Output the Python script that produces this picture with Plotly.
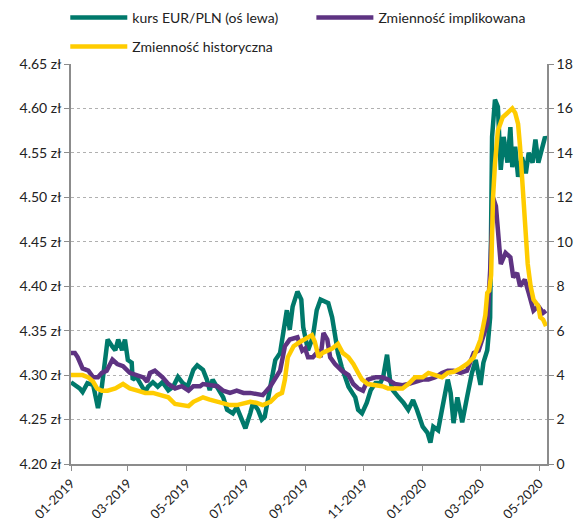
import plotly.graph_objects as go
import pandas as pd

# --- data ---
eur_dates = ["2019-01-01","2019-01-05","2019-01-10","2019-01-13","2019-01-18","2019-01-24","2019-01-29",
    "2019-02-02","2019-02-05","2019-02-08","2019-02-13","2019-02-16","2019-02-19","2019-02-23","2019-02-26",
    "2019-03-01","2019-03-05","2019-03-06","2019-03-10","2019-03-14","2019-03-19","2019-03-22","2019-03-27",
    "2019-04-01","2019-04-06","2019-04-12","2019-04-17","2019-04-22","2019-04-27","2019-05-02","2019-05-08",
    "2019-05-12","2019-05-18","2019-05-22","2019-05-25","2019-05-28","2019-06-05","2019-06-08","2019-06-12",
    "2019-06-18","2019-06-22","2019-06-28","2019-07-01","2019-07-06","2019-07-09","2019-07-14","2019-07-18",
    "2019-07-21","2019-07-25","2019-07-29","2019-08-01","2019-08-06","2019-08-09","2019-08-13","2019-08-16",
    "2019-08-19","2019-08-24","2019-08-28","2019-08-30","2019-09-02","2019-09-04","2019-09-09","2019-09-13",
    "2019-09-17","2019-09-22","2019-09-25","2019-09-29","2019-10-02","2019-10-05","2019-10-09","2019-10-13",
    "2019-10-16","2019-10-20","2019-10-23","2019-10-26","2019-10-30","2019-11-04","2019-11-08","2019-11-13",
    "2019-11-18","2019-11-21","2019-11-25","2019-11-28","2019-12-01","2019-12-07","2019-12-12","2019-12-17",
    "2019-12-22","2019-12-26","2020-01-01","2020-01-06","2020-01-09","2020-01-12","2020-01-17","2020-01-21",
    "2020-01-24","2020-01-27","2020-01-30","2020-02-02","2020-02-06","2020-02-09","2020-02-11","2020-02-16",
    "2020-02-21","2020-02-25","2020-03-01","2020-03-04","2020-03-08","2020-03-11","2020-03-12","2020-03-13",
    "2020-03-16","2020-03-19","2020-03-22","2020-03-25","2020-03-29","2020-04-01","2020-04-03","2020-04-06",
    "2020-04-09","2020-04-13","2020-04-17","2020-04-20","2020-04-24","2020-04-27","2020-04-30","2020-05-04",
    "2020-05-07","2020-05-08"]
eur_pln = [4.292,4.289,4.285,4.281,4.291,4.289,4.263,
    4.287,4.317,4.340,4.332,4.328,4.340,4.328,4.340,
    4.317,4.314,4.295,4.298,4.291,4.281,4.287,4.292,
    4.287,4.292,4.283,4.287,4.298,4.291,4.287,4.306,
    4.311,4.306,4.295,4.283,4.295,4.280,4.275,4.261,
    4.257,4.264,4.246,4.240,4.257,4.269,4.261,4.250,
    4.253,4.275,4.295,4.317,4.325,4.347,4.373,4.351,
    4.377,4.394,4.385,4.354,4.340,4.328,4.343,4.373,
    4.385,4.382,4.381,4.365,4.347,4.325,4.309,4.295,
    4.287,4.280,4.275,4.261,4.257,4.269,4.283,4.291,
    4.291,4.298,4.323,4.295,4.283,4.275,4.269,4.261,
    4.272,4.261,4.242,4.235,4.224,4.242,4.238,4.261,
    4.280,4.295,4.280,4.246,4.275,4.261,4.247,4.275,
    4.302,4.317,4.289,4.314,4.328,4.365,4.444,4.568,
    4.610,4.602,4.531,4.568,4.539,4.579,4.534,4.557,
    4.523,4.545,4.527,4.550,4.539,4.565,4.539,4.557,
    4.568,4.566]

impl_dates = ["2019-01-01","2019-01-05","2019-01-08","2019-01-13","2019-01-19","2019-01-24","2019-01-29",
    "2019-02-02","2019-02-07","2019-02-13","2019-02-18","2019-02-24","2019-03-03","2019-03-11","2019-03-17",
    "2019-03-21","2019-03-24","2019-03-29","2019-04-06","2019-04-12","2019-04-19","2019-04-26","2019-05-03",
    "2019-05-08","2019-05-15","2019-05-18","2019-05-25","2019-06-02","2019-06-08","2019-06-15","2019-06-22",
    "2019-06-29","2019-07-06","2019-07-13","2019-07-19","2019-07-27","2019-08-01","2019-08-06","2019-08-11",
    "2019-08-16","2019-08-24","2019-08-29","2019-09-01","2019-09-04","2019-09-09","2019-09-15","2019-09-17",
    "2019-09-20","2019-09-24","2019-09-27","2019-10-02","2019-10-09","2019-10-16","2019-10-21","2019-10-26",
    "2019-10-31","2019-11-05","2019-11-13","2019-11-20","2019-11-26","2019-12-03","2019-12-11","2019-12-17",
    "2019-12-24","2020-01-01","2020-01-07","2020-01-14","2020-01-21","2020-01-27","2020-02-02","2020-02-09",
    "2020-02-16","2020-02-23","2020-02-28","2020-03-03","2020-03-08","2020-03-11","2020-03-14","2020-03-17",
    "2020-03-19","2020-03-22","2020-03-27","2020-04-01","2020-04-04","2020-04-08","2020-04-11","2020-04-16",
    "2020-04-20","2020-04-25","2020-04-30","2020-05-05","2020-05-08"]
impl_vol = [5.0,5.0,4.8,4.3,4.2,3.9,3.9,
    4.1,4.2,4.7,4.5,4.4,4.1,4.0,3.9,
    3.7,4.1,4.2,3.9,3.6,3.4,3.5,3.3,
    3.5,3.5,3.6,3.55,3.5,3.3,3.2,3.3,
    3.2,3.2,3.15,3.1,3.5,3.9,4.2,5.3,
    5.6,5.7,5.1,5.2,4.8,4.8,5.1,4.8,
    5.9,5.6,4.8,4.5,4.2,4.0,3.6,3.4,
    3.3,3.8,3.9,3.9,3.8,3.6,3.55,3.6,
    3.7,3.8,3.8,3.9,4.1,4.2,4.2,4.1,
    4.2,5.0,5.1,5.6,6.3,8.7,12.0,11.6,
    10.5,9.0,9.5,9.3,8.4,8.6,8.0,8.3,
    7.7,6.9,7.1,6.8,6.9]

hist_dates = ["2019-01-01","2019-01-08","2019-01-13","2019-01-19","2019-01-24","2019-01-28","2019-02-02",
    "2019-02-08","2019-02-16","2019-02-24","2019-03-03","2019-03-11","2019-03-19","2019-03-27","2019-04-06",
    "2019-04-12","2019-04-19","2019-04-26","2019-05-03","2019-05-08","2019-05-12","2019-05-18","2019-05-25",
    "2019-06-02","2019-06-08","2019-06-15","2019-06-22","2019-06-29","2019-07-06","2019-07-13","2019-07-19",
    "2019-07-27","2019-08-03","2019-08-08","2019-08-11","2019-08-14","2019-08-20","2019-08-27","2019-09-03",
    "2019-09-08","2019-09-11","2019-09-15","2019-09-19","2019-09-24","2019-09-29","2019-10-05","2019-10-10",
    "2019-10-16","2019-10-21","2019-10-26","2019-10-30","2019-11-05","2019-11-13","2019-11-20","2019-11-26",
    "2019-12-03","2019-12-11","2019-12-17","2019-12-24","2020-01-01","2020-01-07","2020-01-14","2020-01-21",
    "2020-01-27","2020-02-02","2020-02-09","2020-02-16","2020-02-23","2020-03-01","2020-03-04","2020-03-06",
    "2020-03-08","2020-03-10","2020-03-12","2020-03-13","2020-03-14","2020-03-16","2020-03-19","2020-03-24",
    "2020-03-29","2020-04-03","2020-04-06","2020-04-09","2020-04-11","2020-04-13","2020-04-17","2020-04-19",
    "2020-04-22","2020-04-25","2020-04-30","2020-05-02","2020-05-05","2020-05-08"]
hist_vol = [4.0,4.0,4.0,3.9,3.7,3.4,3.3,
    3.3,3.4,3.6,3.4,3.3,3.2,3.2,3.1,
    3.0,2.7,2.65,2.6,2.8,2.9,3.0,2.9,
    2.8,2.75,2.65,2.65,2.75,2.8,2.75,2.65,
    2.8,3.1,3.2,3.8,4.8,5.3,5.5,5.7,
    5.8,5.5,4.8,5.0,5.1,5.2,5.4,5.0,
    4.8,4.5,4.1,3.8,3.6,3.55,3.5,3.4,
    3.4,3.4,3.6,3.9,3.9,4.1,4.0,3.9,
    4.1,4.15,4.3,4.5,4.8,5.6,6.25,6.7,
    7.7,7.8,8.5,10.5,12.0,13.5,15.0,15.6,
    15.8,16.0,15.8,15.3,14.3,12.8,10.5,9.0,
    8.0,7.4,7.1,6.6,6.5,6.2]

names = ["kurs EUR/PLN (oś lewa)", "Zmienność implikowana", "Zmienność historyczna"]
colors = ["#00796B", "#5E3382", "#FFCC00"]
x_ticks = ["2019-01-01","2019-03-01","2019-05-01","2019-07-01","2019-09-01","2019-11-01",
           "2020-01-01","2020-03-01","2020-05-01"]

FONT = "Lato"
fig = go.Figure()
fig.add_trace(go.Scatter(x=pd.to_datetime(eur_dates), y=eur_pln, name=names[0], mode="lines",
                         line=dict(color=colors[0], width=4.5), yaxis="y", legend="legend"))
fig.add_trace(go.Scatter(x=pd.to_datetime(impl_dates), y=impl_vol, name=names[1], mode="lines",
                         line=dict(color=colors[1], width=4.5), yaxis="y2", legend="legend2"))
fig.add_trace(go.Scatter(x=pd.to_datetime(hist_dates), y=hist_vol, name=names[2], mode="lines",
                         line=dict(color=colors[2], width=4.5), yaxis="y2", legend="legend3"))

axis_common = dict(showline=True, linecolor="#8c8c8c", linewidth=1.5, ticks="outside",
                   tickcolor="#8c8c8c", ticklen=5, automargin=False)
tick_font = dict(family=FONT, size=14, color="#222")

leg_common = dict(xanchor="left", yanchor="middle", itemwidth=57,
                  font=dict(family=FONT, size=14, color="#222"),
                  bgcolor="rgba(0,0,0,0)", borderwidth=0)

fig.update_layout(
    width=581, height=522,
    margin=dict(l=71, r=34, t=64, b=58, autoexpand=False),
    plot_bgcolor="white", paper_bgcolor="white",
    font=dict(family=FONT, size=14, color="#222"),
    showlegend=True,
    legend=dict(x=-0.012, y=1.115, **leg_common),
    legend2=dict(x=0.505, y=1.115, **leg_common),
    legend3=dict(x=-0.012, y=1.0425, **leg_common),
    xaxis=dict(type="date", range=["2019-01-01", "2020-05-09"], tickvals=pd.to_datetime(x_ticks),
               tickformat="%m-%Y", tickangle=-45, showgrid=False, zeroline=False,
               tickfont=dict(family=FONT, size=13, color="#222"), **axis_common),
    yaxis=dict(range=[4.20, 4.65], dtick=0.05, tick0=4.20, tickformat=".2f", ticksuffix=" zł",
               showgrid=True, gridcolor="#b0b0b0", griddash="dot", gridwidth=1, zeroline=False,
               tickfont=tick_font, **axis_common),
    yaxis2=dict(range=[0, 18], dtick=2, tick0=0, overlaying="y", side="right", showgrid=False,
                zeroline=False, tickfont=tick_font, **axis_common),
)

fig.write_html("out.html", config={"displayModeBar": False},
               post_script="document.body.style.margin='0';document.body.style.padding='0';")
